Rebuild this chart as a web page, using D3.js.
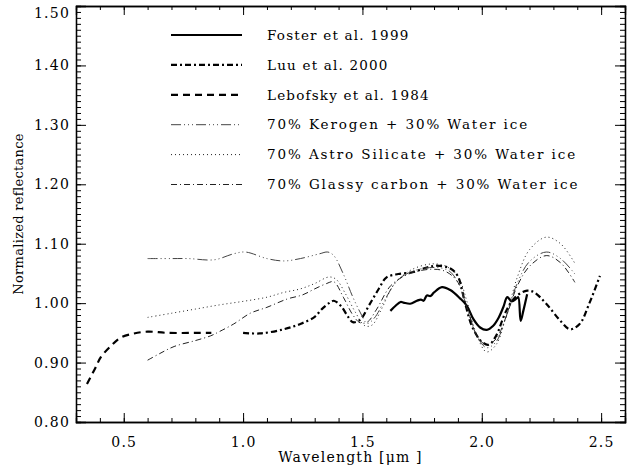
<html>

<head>
    <script src="https://d3js.org/d3.v7.min.js"></script>
    <style>
        body { margin: 0; background: #fff; }
        text { font-family: "DejaVu Serif", "Liberation Serif", serif; fill: #000; }
        .axis .domain { stroke: #000; }
        .axis line { stroke: #000; }
    </style>
</head>

<body>
    <svg id="chartArea" height="467" width="631"></svg>
    <script>
        // spectra: [wavelength (um), normalized reflectance]
        const foster = [[1.617, 0.987], [1.64, 0.996], [1.66, 1.002], [1.672, 1.001], [1.70, 0.999], [1.728, 1.004],
            [1.745, 1.006], [1.756, 1.004], [1.77, 1.013], [1.785, 1.012], [1.80, 1.018], [1.833, 1.027],
            [1.868, 1.022], [1.909, 1.008], [1.937, 0.996], [1.965, 0.973], [1.993, 0.959], [2.021, 0.955],
            [2.048, 0.962], [2.07, 0.975], [2.09, 0.993], [2.107, 1.010], [2.125, 1.003], [2.146, 1.008],
            [2.153, 1.010], [2.163, 0.970], [2.174, 0.987], [2.19, 1.015]];
        const luu = [[1.00, 0.950], [1.07, 0.949], [1.17, 0.956], [1.24, 0.965], [1.30, 0.977], [1.33, 0.990],
            [1.36, 1.000], [1.38, 1.004], [1.41, 0.995], [1.44, 0.977], [1.46, 0.968], [1.49, 0.972],
            [1.53, 0.998], [1.57, 1.025], [1.60, 1.043], [1.65, 1.049], [1.71, 1.052], [1.77, 1.060],
            [1.81, 1.063], [1.87, 1.058], [1.90, 1.045], [1.93, 1.000], [1.96, 0.960], [2.00, 0.935],
            [2.03, 0.930], [2.06, 0.945], [2.10, 0.985], [2.14, 1.010], [2.19, 1.021], [2.22, 1.018],
            [2.27, 0.999], [2.33, 0.970], [2.37, 0.956], [2.41, 0.965], [2.45, 0.999], [2.495, 1.046]];
        const lebofsky = [[0.346, 0.864], [0.38, 0.890], [0.404, 0.909], [0.446, 0.928], [0.488, 0.942],
            [0.543, 0.949], [0.60, 0.952], [0.683, 0.950], [0.82, 0.950], [0.867, 0.950]];
        const kerogen = [[0.60, 1.075], [0.70, 1.075], [0.77, 1.075], [0.88, 1.073], [0.96, 1.083], [1.01, 1.086],
            [1.10, 1.075], [1.17, 1.071], [1.24, 1.075], [1.32, 1.083], [1.355, 1.086], [1.38, 1.080],
            [1.42, 1.049], [1.46, 1.010], [1.49, 0.985], [1.52, 0.966], [1.55, 0.975], [1.60, 1.010],
            [1.65, 1.040], [1.72, 1.055], [1.80, 1.060], [1.86, 1.055], [1.90, 1.035], [1.94, 0.990],
            [1.98, 0.945], [2.02, 0.925], [2.06, 0.935], [2.10, 0.975], [2.15, 1.035], [2.20, 1.070],
            [2.27, 1.086], [2.33, 1.075], [2.39, 1.049]];
        const astro = [[0.60, 0.976], [0.70, 0.983], [0.80, 0.990], [0.90, 0.997], [1.00, 1.003], [1.10, 1.010],
            [1.17, 1.018], [1.24, 1.024], [1.30, 1.033], [1.36, 1.044], [1.39, 1.040], [1.43, 1.015],
            [1.47, 0.985], [1.51, 0.962], [1.54, 0.963], [1.58, 0.990], [1.63, 1.030], [1.70, 1.055],
            [1.79, 1.066], [1.85, 1.062], [1.90, 1.045], [1.94, 1.000], [1.98, 0.945], [2.02, 0.918],
            [2.06, 0.930], [2.10, 0.975], [2.15, 1.045], [2.20, 1.090], [2.27, 1.111], [2.33, 1.100],
            [2.39, 1.067]];
        const glassy = [[0.60, 0.904], [0.65, 0.915], [0.711, 0.927], [0.80, 0.937], [0.864, 0.945], [0.90, 0.952],
            [0.961, 0.965], [1.03, 0.983], [1.10, 0.993], [1.185, 1.007], [1.25, 1.014], [1.30, 1.024],
            [1.35, 1.033], [1.38, 1.036], [1.42, 1.010], [1.46, 0.980], [1.49, 0.967], [1.52, 0.968],
            [1.56, 0.990], [1.62, 1.030], [1.70, 1.050], [1.79, 1.057], [1.85, 1.053], [1.90, 1.035],
            [1.94, 0.990], [1.98, 0.945], [2.02, 0.930], [2.06, 0.940], [2.10, 0.975], [2.15, 1.030],
            [2.20, 1.062], [2.27, 1.080], [2.33, 1.068], [2.39, 1.035]];

        const seriesNames = ["Foster et al. 1999", "Luu et al. 2000", "Lebofsky et al. 1984",
            "70% Kerogen + 30% Water ice", "70% Astro Silicate + 30% Water ice", "70% Glassy carbon + 30% Water ice"];
        const xTicks = [0.5, 1.0, 1.5, 2.0, 2.5];
        const yTicks = [0.8, 0.9, 1.0, 1.1, 1.2, 1.3, 1.4, 1.5];

        const styles = [
            { width: 2.2, dash: null, color: "#000" },
            { width: 2.2, dash: "6,3,2,3", color: "#000" },
            { width: 2.2, dash: "7,5", color: "#000" },
            { width: 1, dash: "10,3,1,3,1,3,1,3", color: "#444" },
            { width: 1, dash: "1,3", color: "#222" },
            { width: 1, dash: "6,3,1,3", color: "#222" }
        ];
        const series = [foster, luu, lebofsky, kerogen, astro, glassy];

        const svg = d3.select("#chartArea");
        const margins = { top: 6, right: 6, bottom: 45, left: 76 };
        const chartWidth = 631 - margins.left - margins.right;
        const chartHeight = 467 - margins.top - margins.bottom;

        const chartArea = svg.append("g")
            .attr("transform", `translate(${margins.left},${margins.top})`);

        const xScale = d3.scaleLinear().domain([0.3, 2.6]).range([0, chartWidth]);
        const yScale = d3.scaleLinear().domain([0.8, 1.5]).range([chartHeight, 0]);

        const xMinor = d3.range(4, 26).map(d => d / 10);
        const yMinor = d3.range(80, 151).map(d => d / 100);

        // ticks on all four sides
        const addAxis = (axis, transform) => chartArea.append("g")
            .attr("class", "axis")
            .attr("transform", transform)
            .call(axis)
            .call(g => g.select(".domain").attr("stroke-width", 1.3));

        addAxis(d3.axisBottom(xScale).tickValues(xMinor).tickSize(-4).tickFormat(""), `translate(0,${chartHeight})`);
        addAxis(d3.axisTop(xScale).tickValues(xMinor).tickSize(-4).tickFormat(""), "translate(0,0)");
        addAxis(d3.axisLeft(yScale).tickValues(yMinor).tickSize(-5).tickFormat(""), "translate(0,0)");
        addAxis(d3.axisRight(yScale).tickValues(yMinor).tickSize(-5).tickFormat(""), `translate(${chartWidth},0)`);

        addAxis(d3.axisBottom(xScale).tickValues(xTicks).tickSize(-9).tickPadding(15).tickFormat(d3.format(".1f")),
            `translate(0,${chartHeight})`)
            .selectAll("text").style("font-size", "14px").style("letter-spacing", "1.2px");
        addAxis(d3.axisTop(xScale).tickValues(xTicks).tickSize(-9).tickFormat(""), "translate(0,0)");
        addAxis(d3.axisLeft(yScale).tickValues(yTicks).tickSize(-10).tickPadding(6).tickFormat(d3.format(".2f")),
            "translate(0,0)")
            .selectAll("text").style("font-size", "14px").style("letter-spacing", "1.2px")
            .attr("dy", d => d === 1.5 ? "0.85em" : "0.32em");
        addAxis(d3.axisRight(yScale).tickValues(yTicks).tickSize(-10).tickFormat(""), `translate(${chartWidth},0)`);

        // axis titles
        svg.append("text")
            .attr("x", margins.left + chartWidth / 2)
            .attr("y", 462)
            .attr("text-anchor", "middle")
            .style("font-size", "14px")
            .style("letter-spacing", "1.2px")
            .text("Wavelength [\u03bcm ]");
        svg.append("text")
            .attr("transform", `translate(23,${margins.top + chartHeight / 2}) rotate(-90)`)
            .attr("text-anchor", "middle")
            .style("font-size", "13px")
            .style("letter-spacing", "0.3px")
            .text("Normalized reflectance");

        //draw the spectra
        const lineGenerator = d3.line()
            .x(d => xScale(d[0]))
            .y(d => yScale(d[1]))
            .curve(d3.curveCatmullRom);

        chartArea.selectAll(".spectrum")
            .data(series)
            .join("path")
            .attr("class", "spectrum")
            .attr("d", d => lineGenerator(d))
            .attr("fill", "none")
            .attr("stroke", (d, i) => styles[i].color)
            .attr("stroke-width", (d, i) => styles[i].width)
            .attr("stroke-dasharray", (d, i) => styles[i].dash);

        //legend
        const legend = svg.selectAll(".legend")
            .data(seriesNames)
            .join("g")
            .attr("class", "legend")
            .attr("transform", (d, i) => `translate(171,${35 + i * 29.9})`);

        legend.append("line")
            .attr("x1", 0).attr("x2", 71)
            .attr("stroke", (d, i) => styles[i].color)
            .attr("stroke-width", (d, i) => styles[i].width)
            .attr("stroke-dasharray", (d, i) => styles[i].dash);

        // the model labels are set wider in the original
        legend.append("text")
            .attr("x", 96)
            .attr("dy", "0.35em")
            .style("font-size", "13.5px")
            .style("letter-spacing", (d, i) => i < 3 ? "1.2px" : "1.9px")
            .text(d => d);
    </script>
</body>

</html>
